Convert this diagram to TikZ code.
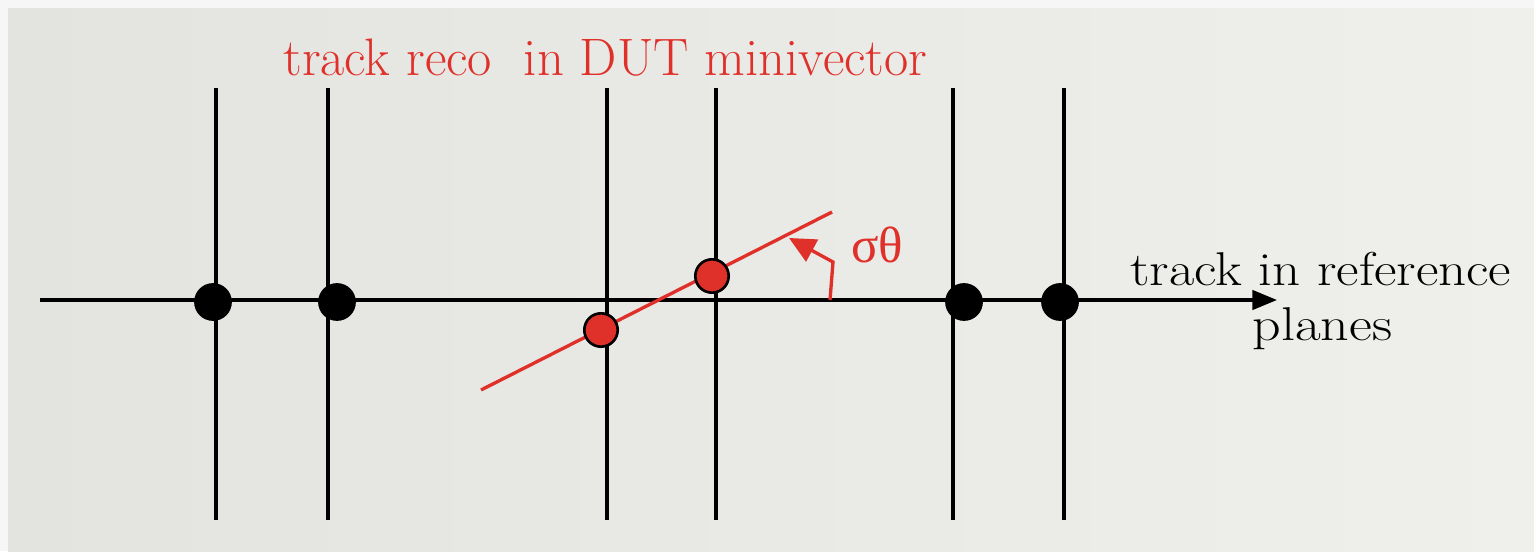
\documentclass[tikz,border=0pt]{standalone}
\usepackage{fontspec}
\newfontfamily\grk{Liberation Serif}
\usetikzlibrary{arrows.meta}
\definecolor{redc}{HTML}{E0302A}
\definecolor{bgl}{HTML}{E3E3DF}
\definecolor{bgr}{HTML}{EFEFEC}
\definecolor{outer}{HTML}{F6F6F6}
\tikzset{
  plane/.style={line width=1.9pt, black},
  refdot/.style={circle, fill=black, minimum size=21.5pt, inner sep=0pt},
  dutdot/.style={circle, fill=redc, draw=black, line width=1.5pt, minimum size=19pt, inner sep=0pt},
  lbl/.style={inner sep=0pt, font=\fontsize{27}{30}\selectfont},
}
\begin{document}
\begin{tikzpicture}[x=0.02cm, y=-0.02cm]
\fill[outer] (0,0) rectangle (1534,551);
\shade[left color=bgl, right color=bgr] (8,8) rectangle (1534,551);
\useasboundingbox (0,0) rectangle (1534,551);
% vertical planes
\foreach \i/\x in {1/216,2/328,3/607,4/716,5/953,6/1064}{
  \coordinate (t\i) at (\x,88);
  \coordinate (b\i) at (\x,520);
  \draw[plane] (t\i) -- (b\i);
}
% horizontal reference track
\coordinate (hs) at (40,300);
\coordinate (he) at (1277,300);
\draw[plane, -{Triangle[length=14pt, width=11pt]}] (hs) -- (he);
% reference hits
\node[refdot] (r1) at (213,302) {};
\node[refdot] (r2) at (337,302) {};
\node[refdot] (r3) at (964,302) {};
\node[refdot] (r4) at (1060,302) {};
% DUT minivector
\coordinate (ms) at (481,390);
\coordinate (me) at (832,212);
\draw[redc, line width=1.9pt] (ms) -- (me);
\node[dutdot] (d1) at (601,330) {};
\node[dutdot] (d2) at (712,276) {};
% angle arrow
\coordinate (a0) at (830,300);
\coordinate (a1) at (833,262);
\coordinate (a2) at (789,238);
\draw[redc, line width=1.9pt, -{Triangle[length=15pt, width=14pt]}] (a0) -- (a1) -- (a2);
% labels
\node[lbl, text=redc, anchor=base west, font=\fontsize{30}{32}\selectfont] (title) at (283,75) {track reco\ \ in DUT minivector};
\node[lbl, text=redc, anchor=base west, font=\grk\fontsize{29}{30}\selectfont] (sig) at (851,262) {σθ};
\node[lbl, anchor=base west, xscale=1.16] (ref1) at (1130,285) {track in reference};
\node[lbl, anchor=base west, xscale=1.18] (ref2) at (1252,340) {planes};
\end{tikzpicture}
\end{document}
